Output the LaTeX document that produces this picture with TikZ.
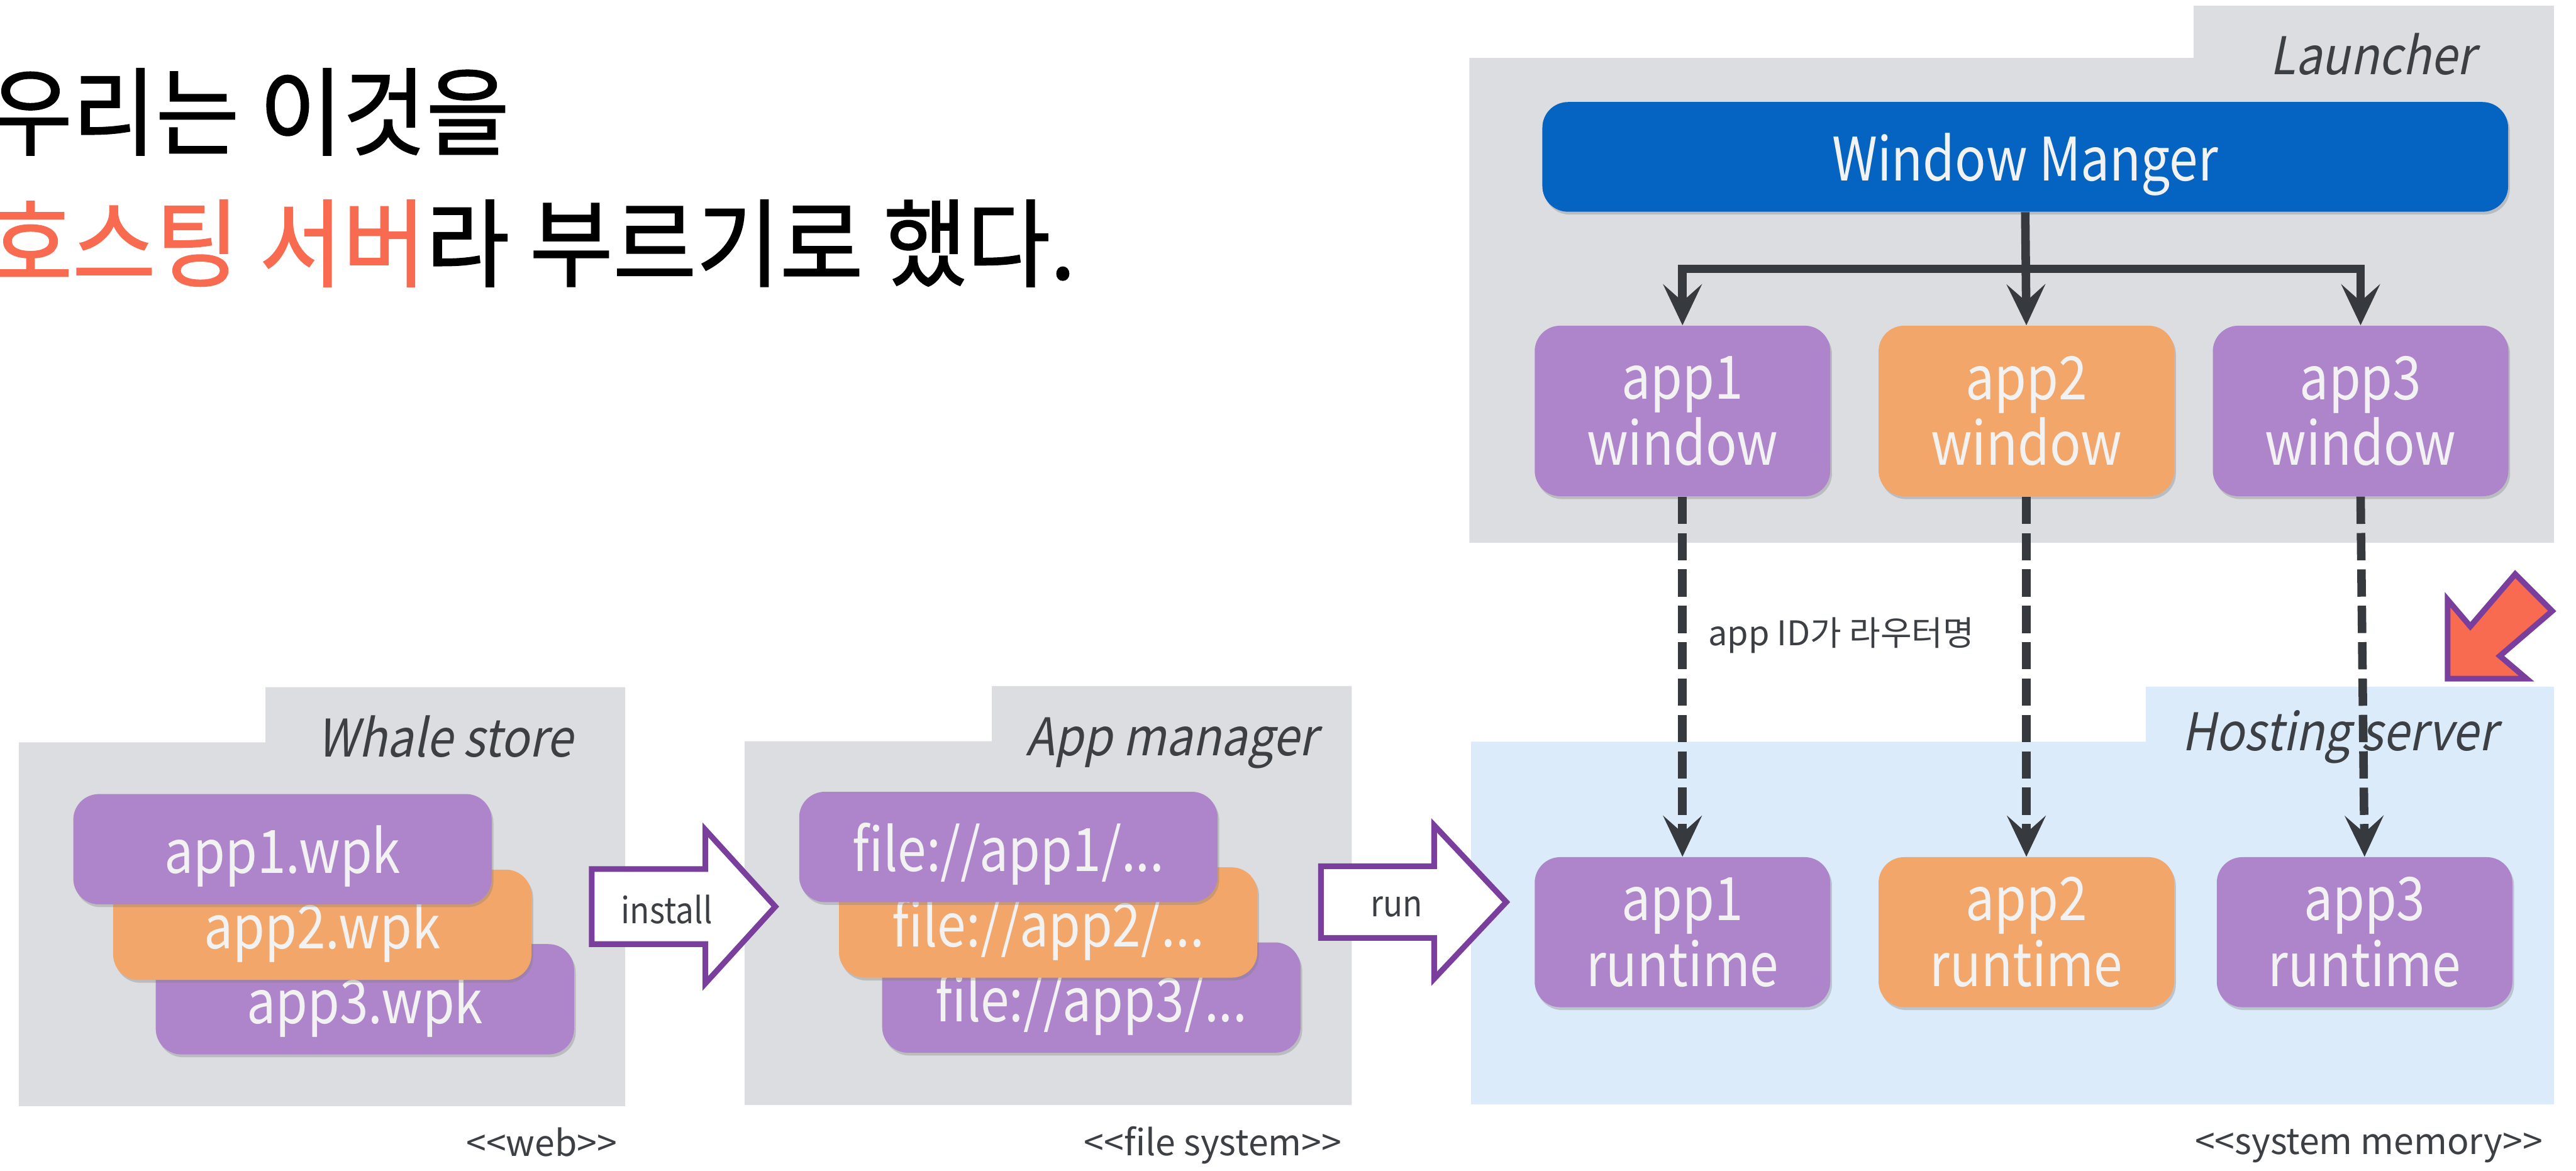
\documentclass[tikz,border=0pt]{standalone}
\usepackage{fontspec}
\setmainfont{Noto Sans CJK KR}[Ligatures=TeXOff]
\newfontfamily\headfont{Noto Sans CJK KR}[FakeStretch=0.945,FakeBold=1.2]
\newfontfamily\boxfont{Noto Sans CJK KR}[FakeStretch=0.86,Ligatures=TeXOff]
\newfontfamily\slantfont{Noto Sans CJK KR}[FakeSlant=0.2,FakeStretch=0.9,Ligatures=TeXOff]
\newfontfamily\arrowfont{Noto Sans CJK KR}[FakeStretch=0.9]
\usetikzlibrary{arrows.meta,shadows,calc}

\definecolor{panelgray}{HTML}{DCDDE1}
\definecolor{panelblue}{HTML}{DBEBFA}
\definecolor{apppurple}{HTML}{AE84CA}
\definecolor{apporange}{HTML}{F3A669}
\definecolor{wmblue}{HTML}{0563C1}
\definecolor{linegray}{HTML}{36393E}
\definecolor{textgray}{HTML}{3C3F44}
\definecolor{arrowpurple}{HTML}{7A3E9D}
\definecolor{coral}{HTML}{F96B51}
\definecolor{boxwhite}{HTML}{F2F2F2}

\newcommand{\titlesize}{\fontsize{48}{56}\selectfont}
\newcommand{\boxsize}{\fontsize{30}{33}\selectfont}
\newcommand{\panelsize}{\fontsize{26}{30}\selectfont}
\newcommand{\labelsize}{\fontsize{18}{21}\selectfont}

\begin{document}
\begin{tikzpicture}[
        appbox/.style={rounded corners=0.45cm, text=boxwhite, font=\boxfont\boxsize, align=center, inner sep=0pt,
            drop shadow={shadow xshift=0.03cm, shadow yshift=-0.05cm, opacity=0.35}},
        purplebox/.style={appbox, fill=apppurple},
        orangebox/.style={appbox, fill=apporange},
        oneline/.style={text height=0.95cm, text depth=0.1cm},
        wpkbox/.style={oneline, minimum width=7.36cm, minimum height=1.94cm},
        winbox/.style={minimum width=5.2cm, minimum height=3.0cm},
        rtbox/.style={minimum width=5.2cm, minimum height=2.64cm},
        panel/.style={text=textgray, font=\slantfont\panelsize, inner sep=0pt, anchor=base east},
        tag/.style={text=textgray, font=\labelsize, inner sep=0pt},
        flow/.style={draw=linegray, line width=0.15cm, -{Stealth[length=0.72cm, width=0.68cm, inset=0.3cm]}},
        idflow/.style={flow, dash pattern=on 0.48cm off 0.16cm},
        bigarrow/.style={draw=arrowpurple, line width=0.1cm}
    ]
    \useasboundingbox (0,0) rectangle (45.32,-20.60);

    \fill[panelgray] (0.33,-13.06) -- (4.67,-13.06) -- (4.67,-12.09) -- (11.00,-12.09) -- (11.00,-19.46) -- (0.33,-19.46) -- cycle;
    \fill[panelgray] (13.10,-13.04) -- (17.45,-13.04) -- (17.45,-12.07) -- (23.78,-12.07) -- (23.78,-19.44) -- (13.10,-19.44) -- cycle;
    \fill[panelgray] (25.85,-1.02) -- (38.59,-1.02) -- (38.59,-0.10) -- (44.93,-0.10) -- (44.93,-9.55) -- (25.85,-9.55) -- cycle;
    \fill[panelblue] (25.88,-13.05) -- (37.75,-13.05) -- (37.75,-12.08) -- (44.93,-12.08) -- (44.93,-19.43) -- (25.88,-19.43) -- cycle;

    \node[panel] (launcher) at (43.55,-1.31) {Launcher};
    \node[panel] (whale) at (10.08,-13.32) {Whale store};
    \node[panel] (appmgr) at (23.18,-13.29) {App manager};
    \node[panel] (hosting) at (43.93,-13.20) {Hosting server};

    \node[anchor=base west, inner sep=0pt, font=\headfont\titlesize] (title1) at (-0.20,-2.60) {우리는 이것을};
    \node[anchor=base west, inner sep=0pt, font=\headfont\titlesize] (title2) at (-0.20,-4.91) {\textcolor{coral}{호스팅 서버}라 부르기로 했다.};

    \node[appbox, oneline, fill=wmblue, minimum width=16.99cm, minimum height=1.93cm] (wm) at (35.63,-2.76) {Window Manger};
    \node[purplebox, winbox] (win1) at (29.60,-7.23) {app1\\window};
    \node[orangebox, winbox] (win2) at (35.65,-7.23) {app2\\window};
    \node[purplebox, winbox] (win3) at (41.53,-7.23) {app3\\window};

    \coordinate (bus) at ($(wm.south)+(0,-1.0)$);
    \draw[flow] (wm.south) -- (win2.north);
    \draw[flow] (bus) -| (win1.north);
    \draw[flow] (bus) -| (win3.north);

    \node[purplebox, rtbox] (rt1) at (29.60,-16.40) {app1\\runtime};
    \node[orangebox, rtbox] (rt2) at (35.65,-16.40) {app2\\runtime};
    \node[purplebox, rtbox] (rt3) at (41.60,-16.40) {app3\\runtime};

    \draw[idflow] (win1.south) -- node[tag, font=\fontsize{17}{20}\selectfont, pos=0.385, anchor=west, xshift=0.38cm] (routelbl) {app ID가 라우터명} (rt1.north);
    \draw[idflow] (win2.south) -- (rt2.north);
    \draw[idflow] (win3.south) -- (rt3.north);

    \node[purplebox, wpkbox] (wpk3) at (6.42,-17.58) {app3.wpk};
    \node[orangebox, wpkbox] (wpk2) at (5.67,-16.27) {app2.wpk};
    \node[purplebox, wpkbox] (wpk1) at (4.97,-14.94) {app1.wpk};

    \node[purplebox, wpkbox] (file3) at (19.20,-17.55) {file://app3/...};
    \node[orangebox, wpkbox] (file2) at (18.44,-16.23) {file://app2/...};
    \node[purplebox, wpkbox] (file1) at (17.74,-14.90) {file://app1/...};

    \draw[bigarrow, fill=white] (10.41,-15.29) -- (12.41,-15.29) -- (12.41,-14.60) -- (13.64,-15.95) -- (12.41,-17.30) -- (12.41,-16.61) -- (10.41,-16.61) -- cycle;
    \node[tag, font=\arrowfont\labelsize] (install) at (11.73,-16.00) {install};
    \draw[bigarrow, fill=white] (23.24,-15.24) -- (25.23,-15.24) -- (25.23,-14.52) -- (26.50,-15.87) -- (25.23,-17.22) -- (25.23,-16.50) -- (23.24,-16.50) -- cycle;
    \node[tag, font=\arrowfont\labelsize] (run) at (24.57,-15.95) {run};

    \draw[bigarrow, fill=coral] (43.06,-11.94) -- (43.06,-10.55) -- (43.46,-11.02) -- (44.25,-10.10) -- (44.90,-10.75) -- (43.98,-11.54) -- (44.45,-11.94) -- cycle;

    \node[tag, anchor=base east] (webtag) at (10.86,-20.34) {<<web>>};
    \node[tag, anchor=base east] (fstag) at (23.61,-20.33) {<<file system>>};
    \node[tag, anchor=base east] (memtag) at (44.74,-20.31) {<<system memory>>};
\end{tikzpicture}
\end{document}
